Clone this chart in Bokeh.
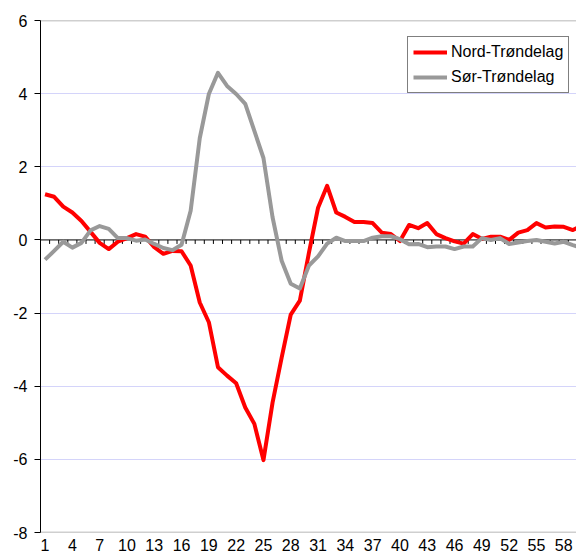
from bokeh.plotting import figure
from bokeh.models import Range1d, FixedTicker, Span, Legend, LegendItem
from bokeh.embed import file_html
from bokeh.resources import INLINE

periods = list(range(1, 61))
nord = [1.25, 1.18, 0.91, 0.75, 0.52, 0.22, -0.08, -0.25, -0.05, 0.05,
        0.16, 0.09, -0.2, -0.38, -0.3, -0.31, -0.7, -1.71, -2.25, -3.48,
        -3.71, -3.92, -4.58, -5.03, -6.02, -4.45, -3.22, -2.04, -1.66, -0.35,
        0.88, 1.48, 0.75, 0.63, 0.49, 0.49, 0.46, 0.2, 0.16, -0.03,
        0.41, 0.32, 0.46, 0.16, 0.05, -0.04, -0.1, 0.16, 0.03, 0.09,
        0.09, 0.0, 0.2, 0.27, 0.46, 0.34, 0.37, 0.36, 0.27, 0.4]
sor = [-0.54, -0.3, -0.05, -0.21, -0.08, 0.26, 0.38, 0.3, 0.05, 0.05,
       -0.02, 0.01, -0.11, -0.22, -0.28, -0.13, 0.8, 2.78, 3.99, 4.57,
       4.21, 3.99, 3.72, 2.98, 2.24, 0.62, -0.57, -1.2, -1.33, -0.7,
       -0.45, -0.1, 0.06, -0.03, -0.03, -0.03, 0.06, 0.1, 0.1, 0.02,
       -0.12, -0.11, -0.2, -0.18, -0.18, -0.25, -0.18, -0.18, 0.05, 0.0,
       0.05, -0.11, -0.07, -0.03, 0.0, -0.05, -0.1, -0.05, -0.14, -0.22]
series_names = ["Nord-Trøndelag", "Sør-Trøndelag"]
x_tick_labels = list(range(1, 59, 3))
y_ticks = [-8, -6, -4, -2, 0, 2, 4, 6]
grid_ticks = [-6, -4, -2, 2, 4]

FONT = "Liberation Sans"

p = figure(output_backend="svg", toolbar_location=None,
           frame_width=536, frame_height=512,
           x_range=Range1d(0.5, 59.4), y_range=Range1d(-8, 6),
           min_border_left=40, min_border_right=0, min_border_top=20,
           min_border_bottom=25)
p.outline_line_color = None
p.background_fill_color = "white"
p.border_fill_color = "white"

# grid
p.xgrid.grid_line_color = None
p.ygrid.ticker = FixedTicker(ticks=grid_ticks)
p.ygrid.grid_line_color = "#d4d4fa"
p.ygrid.grid_line_width = 1

# top / bottom border lines
for loc in (y_ticks[-1], y_ticks[0]):
    p.add_layout(Span(location=loc, dimension="width", line_color="#a0a0a0",
                      line_width=1.5, level="underlay"))

# zero line with category tick marks
p.add_layout(Span(location=0, dimension="width", line_color="black",
                  line_width=1, level="underlay"))
boundaries = [c - 0.5 for c in periods] + [periods[-1] + 0.5]
p.ray(x=boundaries, y=[0] * len(boundaries), length=4, length_units="screen",
      angle=-90, angle_units="deg", line_color="black", line_width=1)

# y axis
p.yaxis.ticker = FixedTicker(ticks=y_ticks)
p.yaxis.major_label_overrides = {float(t): str(t) for t in y_ticks}
p.yaxis.axis_line_color = "black"
p.yaxis.axis_line_width = 1
p.yaxis.major_tick_line_color = "black"
p.yaxis.major_tick_out = 6
p.yaxis.major_tick_in = 0
p.yaxis.minor_tick_line_color = None
p.yaxis.major_label_standoff = 7
p.yaxis.major_label_text_font = FONT
p.yaxis.major_label_text_font_size = "16px"
p.yaxis.major_label_text_color = "black"

# x axis (labels only, at bottom)
p.xaxis.ticker = FixedTicker(ticks=x_tick_labels)
p.xaxis.axis_line_color = None
p.xaxis.major_tick_line_color = None
p.xaxis.minor_tick_line_color = None
p.xaxis.major_tick_out = 0
p.xaxis.major_tick_in = 0
p.xaxis.major_label_standoff = 6
p.xaxis.major_label_text_font = FONT
p.xaxis.major_label_text_font_size = "16px"
p.xaxis.major_label_text_color = "black"

r1 = p.line(periods, nord, line_color="#ff0000", line_width=4, line_join="round")
r2 = p.line(periods, sor, line_color="#999999", line_width=4, line_join="round")

legend = Legend(items=[LegendItem(label=series_names[0], renderers=[r1]),
                       LegendItem(label=series_names[1], renderers=[r2])],
                location=(367, 439), orientation="vertical")
legend.label_text_font = FONT
legend.label_text_font_size = "16px"
legend.label_text_color = "black"
legend.glyph_width = 34
legend.glyph_height = 20
legend.label_height = 20
legend.label_standoff = 4
legend.padding = 5
legend.spacing = 5
legend.margin = 0
legend.border_line_color = "black"
legend.border_line_width = 1
legend.background_fill_color = "white"
legend.background_fill_alpha = 1
p.add_layout(legend)

open("out.html", "w").write(file_html(p, INLINE))
